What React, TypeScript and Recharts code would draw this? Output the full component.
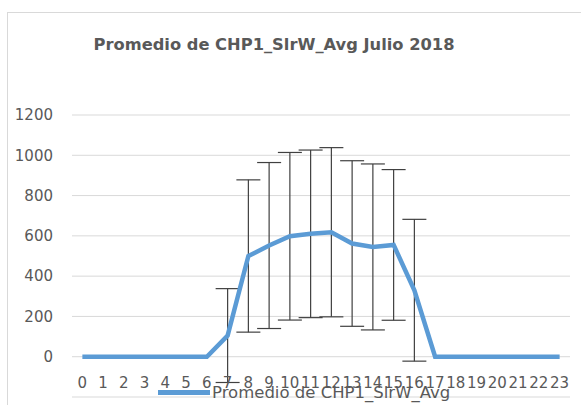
import { LineChart, Line, XAxis, YAxis, CartesianGrid, ErrorBar } from "recharts";

// horas del día
const HOURS = [
  "0", "1", "2", "3", "4", "5", "6", "7", "8", "9", "10", "11",
  "12", "13", "14", "15", "16", "17", "18", "19", "20", "21", "22", "23",
];

// promedio CHP1_SlrW_Avg por hora (W/m2)
const AVG = [0, 0, 0, 0, 0, 0, 0, 105, 500, 552, 598, 610, 618, 562, 545, 555, 330, 0, 0, 0, 0, 0, 0, 0];

// desviación (barras de error)
const ERR = [0, 0, 0, 0, 0, 0, 0, 233, 378, 412, 416, 416, 420, 411, 412, 374, 352, 0, 0, 0, 0, 0, 0, 0];

const Y_TICKS = [-200, 0, 200, 400, 600, 800, 1000, 1200];

const TITLE = "Promedio de CHP1_SlrW_Avg Julio 2018";
const SERIES_NAME = "Promedio de CHP1_SlrW_Avg";

const BLUE = "#5B9BD5";
const TEXT = "#595959";
const FONT = "'DejaVu Sans', sans-serif";

const data = HOURS.map((h, i) => ({ hour: h, avg: AVG[i], err: ERR[i] }));

// etiquetas del eje X pegadas a la línea del cero, como en Excel
const HourTick = (props: any) => {
  const { x, y, payload } = props;
  return (
    <text x={x} y={y - 9} textAnchor="middle" fill={TEXT} fontSize={15} fontFamily={FONT}>
      {payload.value}
    </text>
  );
};

export default function App() {
  return (
    <div
      style={{
        position: "absolute",
        left: 0,
        top: 0,
        width: 581,
        height: 405,
        background: "#fff",
        overflow: "hidden",
      }}
    >
      {/* marco del gráfico */}
      <div
        style={{
          position: "absolute",
          left: 7,
          top: 12,
          width: 600,
          height: 420,
          borderLeft: "1px solid #d9d9d9",
          borderTop: "1px solid #d9d9d9",
        }}
      />
      <div
        style={{
          position: "absolute",
          left: 0,
          top: 35,
          width: 548,
          textAlign: "center",
          fontFamily: FONT,
          fontWeight: "bold",
          fontSize: 16.3,
          color: TEXT,
        }}
      >
        {TITLE}
      </div>
      <div style={{ position: "absolute", left: 0, top: 0 }}>
        <LineChart
          width={581}
          height={405}
          data={data}
          margin={{ top: 115, right: 11, left: 12, bottom: 0 }}
        >
          <CartesianGrid vertical={false} stroke="#d9d9d9" strokeWidth={1} />
          <XAxis
            dataKey="hour"
            scale="band"
            height={8}
            axisLine={false}
            tickLine={false}
            tickSize={0}
            tickMargin={0}
            interval={0}
            tick={<HourTick />}
          />
          <YAxis
            width={60}
            domain={[-200, 1200]}
            ticks={Y_TICKS}
            axisLine={false}
            tickLine={false}
            tickSize={0}
            tickMargin={19}
            tick={{ fill: TEXT, fontSize: 15, fontFamily: FONT }}
          />
          {/* barras de error debajo de la línea */}
          <Line
            dataKey="avg"
            stroke="none"
            dot={false}
            activeDot={false}
            isAnimationActive={false}
            legendType="none"
          >
            <ErrorBar dataKey="err" width={12} stroke="#404040" strokeWidth={1.2} direction="y" />
          </Line>
          <Line
            type="linear"
            dataKey="avg"
            name={SERIES_NAME}
            stroke={BLUE}
            strokeWidth={4.5}
            dot={false}
            activeDot={false}
            isAnimationActive={false}
          />
        </LineChart>
      </div>
      {/* leyenda */}
      <div
        style={{
          position: "absolute",
          left: 158,
          top: 383,
          display: "flex",
          alignItems: "center",
          fontFamily: FONT,
          fontSize: 16.5,
          color: TEXT,
          whiteSpace: "nowrap",
        }}
      >
        <span
          style={{
            display: "inline-block",
            width: 52,
            height: 4.5,
            background: BLUE,
            marginRight: 2,
          }}
        />
        <span>{SERIES_NAME}</span>
      </div>
    </div>
  );
}
